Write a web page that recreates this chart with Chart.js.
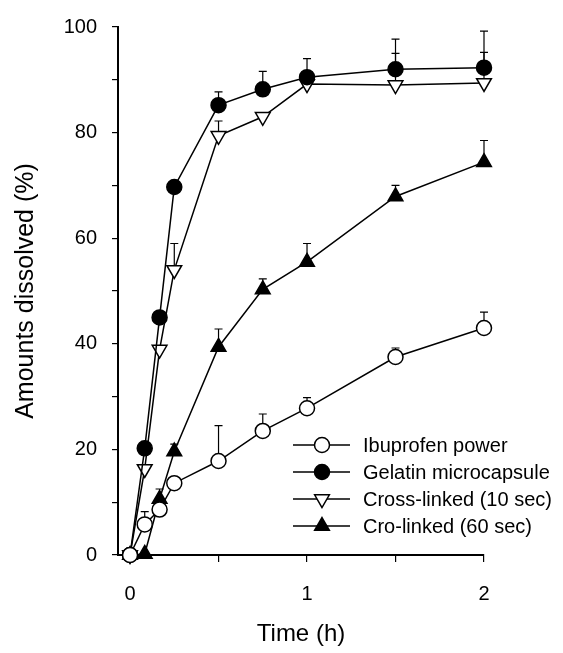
<!DOCTYPE html>
<html>
<head>
<meta charset="utf-8">
<script src="https://cdn.jsdelivr.net/npm/chart.js@4"></script>
<style>
  html, body { margin: 0; padding: 0; background: #fff; }
  #wrap { width: 563px; height: 653px; }
</style>
</head>
<body>
<div id="wrap"><canvas id="chart" width="563" height="653"></canvas></div>
<script>
// time points (h) and mean amounts dissolved (%), error = +SD
const times = [0, 0.083, 0.167, 0.25, 0.5, 0.75, 1, 1.5, 2];

const ibuprofen = [0, 5.8, 8.6, 13.6, 17.8, 23.5, 27.8, 37.5, 43.0];
const ibuprofenErr = [0, 2.4, 1.5, 0, 6.7, 3.2, 2.0, 1.7, 3.0];

const gelatin = [0, 20.2, 45.0, 69.7, 85.2, 88.2, 90.5, 92.0, 92.3];
const gelatinErr = [0, 0, 0, 0, 2.5, 3.4, 3.5, 5.7, 6.9];

const cross10 = [0, 16.3, 38.9, 54.0, 79.4, 83.0, 89.2, 89.0, 89.4];
const cross10Err = [0, 0, 0, 5.0, 2.8, 0, 0, 6.0, 5.8];

const cross60 = [0, 0.2, 10.6, 19.6, 39.4, 50.3, 55.5, 67.9, 74.4];
const cross60Err = [0, 0, 1.9, 1.4, 3.4, 2.0, 3.5, 2.1, 4.1];

const xTicks = [0, 1, 2];
const yTicks = [0, 20, 40, 60, 80, 100];

const FONT = "'Liberation Sans', Arial, sans-serif";

function pts(vals) {
  return times.map((t, i) => ({ x: t, y: vals[i] }));
}

function makeSet(label, vals, errs, style, fill, rot, r) {
  return {
    label: label,
    data: pts(vals),
    err: errs,
    borderColor: '#000',
    borderWidth: 1.5,
    pointStyle: style,
    pointRotation: rot,
    pointRadius: r,
    pointBackgroundColor: fill,
    pointBorderColor: '#000',
    pointBorderWidth: 1.5,
    tension: 0,
    clip: false
  };
}

const datasets = [
  makeSet('Ibuprofen power', ibuprofen, ibuprofenErr, 'circle', '#fff', 0, 7.5),
  makeSet('Gelatin microcapsule', gelatin, gelatinErr, 'circle', '#000', 0, 7.5),
  makeSet('Cross-linked (10 sec)', cross10, cross10Err, 'triangle', '#fff', 180, 8.5),
  makeSet('Cro-linked (60 sec)', cross60, cross60Err, 'triangle', '#000', 0, 8.5)
];

// upward error bars, drawn under the markers
const errorBars = {
  id: 'errorBars',
  beforeDatasetsDraw(chart) {
    const ctx = chart.ctx;
    const xs = chart.scales.x, ys = chart.scales.y;
    ctx.save();
    ctx.strokeStyle = '#000';
    ctx.lineWidth = 1.2;
    chart.data.datasets.forEach(ds => {
      ds.data.forEach((p, i) => {
        const e = ds.err[i];
        if (!e) return;
        const x = xs.getPixelForValue(p.x);
        const y0 = ys.getPixelForValue(p.y);
        const y1 = ys.getPixelForValue(p.y + e);
        ctx.beginPath();
        ctx.moveTo(x, y0);
        ctx.lineTo(x, y1);
        ctx.moveTo(x - 4, y1);
        ctx.lineTo(x + 4, y1);
        ctx.stroke();
      });
    });
    ctx.restore();
  }
};

function marker(ctx, style, x, y, r, rot, fill) {
  ctx.beginPath();
  if (style === 'circle') {
    ctx.arc(x, y, r, 0, Math.PI * 2);
  } else {
    let a = rot * Math.PI / 180;
    for (let k = 0; k < 3; k++) {
      const px = x + Math.sin(a) * r, py = y - Math.cos(a) * r;
      if (k === 0) ctx.moveTo(px, py); else ctx.lineTo(px, py);
      a += Math.PI * 2 / 3;
    }
    ctx.closePath();
  }
  ctx.fillStyle = fill;
  ctx.fill();
  ctx.stroke();
}

// legend inside the plot: line + marker + label
const insideLegend = {
  id: 'insideLegend',
  afterDraw(chart) {
    const ctx = chart.ctx;
    ctx.save();
    ctx.strokeStyle = '#000';
    ctx.lineWidth = 1.5;
    ctx.font = '20px ' + FONT;
    ctx.fillStyle = '#000';
    ctx.textBaseline = 'middle';
    chart.data.datasets.forEach((ds, i) => {
      const y = 445 + i * 27;
      ctx.beginPath();
      ctx.moveTo(293, y);
      ctx.lineTo(350, y);
      ctx.stroke();
      marker(ctx, ds.pointStyle, 322, y, ds.pointStyle === 'circle' ? 7.5 : 8.5, ds.pointRotation, ds.pointBackgroundColor);
      ctx.fillStyle = '#000';
      ctx.fillText(ds.label, 363, y + 1);
    });
    ctx.restore();
  }
};

new Chart(document.getElementById('chart'), {
  type: 'line',
  data: { datasets: datasets },
  plugins: [errorBars, insideLegend],
  options: {
    responsive: false,
    animation: false,
    layout: { padding: { left: 0, top: 20, right: 79, bottom: 0 } },
    plugins: { legend: { display: false }, tooltip: { enabled: false } },
    scales: {
      x: {
        type: 'linear',
        min: -0.068,
        max: 2,
        afterFit(s) { s.height = 98; },
        border: { display: true, color: '#000', width: 2 },
        grid: { drawOnChartArea: false, drawTicks: true, tickLength: 7, color: '#000', lineWidth: 1.2 },
        ticks: {
          stepSize: 0.5,
          includeBounds: false,
          autoSkip: false,
          maxRotation: 0,
          padding: 20,
          color: '#000',
          font: { family: FONT, size: 20 },
          callback: v => xTicks.includes(v) ? String(v) : ''
        },
        title: { display: true, text: 'Time (h)', color: '#000', font: { family: FONT, size: 24 }, padding: { top: 0, bottom: 4 } }
      },
      y: {
        min: 0,
        max: 100,
        afterFit(s) { s.width = 118; },
        border: { display: true, color: '#000', width: 2 },
        grid: { drawOnChartArea: false, drawTicks: true, tickLength: 6, color: '#000', lineWidth: 1.2 },
        ticks: {
          stepSize: 10,
          autoSkip: false,
          padding: 15,
          color: '#000',
          font: { family: FONT, size: 20 },
          callback: v => yTicks.includes(v) ? String(v) : ''
        },
        title: { display: true, text: 'Amounts dissolved (%)', color: '#000', font: { family: FONT, size: 25 }, padding: { top: 11, bottom: 0 } }
      }
    }
  }
});
</script>
</body>
</html>
